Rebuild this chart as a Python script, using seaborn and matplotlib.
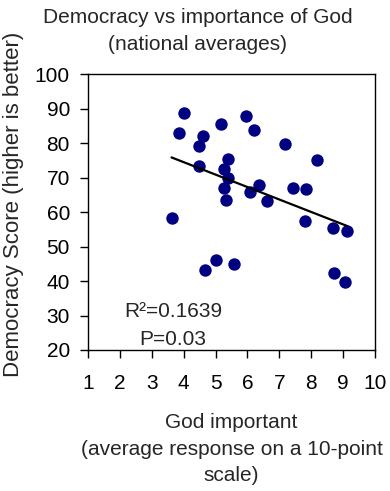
import numpy as np
import pandas as pd
import seaborn as sns
import matplotlib.pyplot as plt

# valores (promedios nacionales)
god_important = [4.00, 3.86, 4.61, 4.48, 5.18, 5.97, 6.21, 7.19, 8.19, 4.48,
                 5.40, 5.27, 5.39, 5.27, 5.32, 6.37, 6.07, 6.60, 7.43, 7.85,
                 7.79, 8.69, 9.13, 3.62, 4.68, 5.00, 5.58, 8.71, 9.06]
democracy = [88.7, 83.1, 82.2, 79.2, 85.5, 88.0, 83.7, 79.7, 75.0, 73.4,
             75.3, 72.4, 69.9, 66.9, 63.4, 67.9, 65.7, 63.3, 67.0, 66.8,
             57.3, 55.5, 54.4, 58.4, 43.1, 46.0, 44.9, 42.3, 39.8]
x_ticks = list(range(1, 11))
y_ticks = list(range(20, 101, 10))

df = pd.DataFrame({"god": god_important, "democracy": democracy})

sns.set_style("white")
plt.rcParams['font.family'] = ['Liberation Sans', 'DejaVu Sans']
plt.rcParams['font.size'] = 15

fig = plt.figure(figsize=(3.9, 4.91), dpi=100)
ax = fig.add_axes([0.2256, 0.2872, 0.7359, 0.5615])

sns.regplot(data=df, x="god", y="democracy", ax=ax, ci=None,
            scatter_kws={"s": 80, "color": "#000080", "alpha": 1, "linewidths": 0},
            line_kws={"color": "black", "lw": 1.6})

ax.set_xlim(1, 10)
ax.set_ylim(20, 100)
ax.set_xticks(x_ticks)
ax.set_yticks(y_ticks)
ax.tick_params(axis="both", direction="out", length=6, width=1, color="black",
               labelsize=15, labelcolor="black", bottom=True, left=True)
ax.tick_params(axis="x", pad=11)
ax.tick_params(axis="y", pad=7)
for s in ax.spines.values():
    s.set_visible(True)
    s.set_color("black")
    s.set_linewidth(1)

ax.set_xlabel("God important\n(average response on a 10-point\nscale)",
              fontsize=15, linespacing=1.5, labelpad=15)
ax.set_ylabel("")
fig.text(14 / 390, 1 - 204 / 491, "Democracy Score (higher is better)",
         rotation=90, ha="center", va="center", fontsize=16)

fig.text(198 / 390, 1 - 31 / 491, "Democracy vs importance of God\n(national averages)",
         ha="center", va="center", fontsize=15, linespacing=1.5)

ax.text(3.67, 31.1, "R²=0.1639", ha="center", va="center", fontsize=15)
ax.text(3.67, 23.1, "P=0.03", ha="center", va="center", fontsize=15)

fig.savefig("out.png", dpi=100, facecolor="white")
